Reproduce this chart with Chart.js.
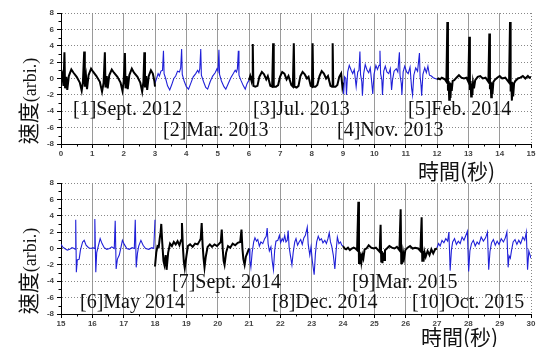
<!DOCTYPE html>
<html>
<head>
<meta charset="utf-8">
<script src="https://cdn.jsdelivr.net/npm/chart.js@4.4.0/dist/chart.umd.min.js"></script>
<style>
body { margin: 0; background: #fff; }
#wrap { position: relative; width: 539px; height: 347px; overflow: hidden; }
canvas { position: absolute; left: 0; }
.ytitle { position: absolute; white-space: nowrap; transform: translate(-50%, -50%) rotate(-90deg); color: #111; }
.ytitle .cjk { font: 21px "Noto Sans CJK TC"; }
.ytitle .lat { font: 18px "Liberation Serif"; }
.xtitle { position: absolute; white-space: nowrap; font: 21px "Noto Sans CJK TC"; color: #111; }
</style>
</head>
<body>
<div id="wrap">
  <canvas id="top-chart" width="539" height="172" style="top:0"></canvas>
  <canvas id="bottom-chart" width="539" height="172" style="top:170px"></canvas>
  <div class="ytitle" style="left:27px;top:101px"><span class="cjk">速度</span><span class="lat">(arbi.)</span></div>
  <div class="ytitle" style="left:27px;top:271px"><span class="cjk">速度</span><span class="lat">(arbi.)</span></div>
  <div class="xtitle" style="left:418px;top:155px">時間(秒)</div>
  <div class="xtitle" style="left:421px;top:321px">時間(秒)</div>
</div>
<script>
// readings, [time (s), speed]
const sept2012 = [[0.00,-0.3],[0.04,0.4],[0.08,-0.9],[0.11,3.2],[0.13,-1.2],[0.17,0.2],[0.20,-1.4],[0.25,0.3],[0.33,1.1],[0.40,0.7],[0.50,0.2],[0.60,-0.5],[0.66,-1.5],[0.70,-0.4],
  [0.74,3.3],[0.76,-1.0],[0.80,0.2],[0.83,-1.3],[0.88,0.4],[0.96,1.2],[1.03,0.8],[1.13,0.3],[1.24,-0.4],[1.31,-1.6],[1.36,-0.5],
  [1.40,3.2],[1.42,-1.1],[1.46,0.3],[1.49,-1.2],[1.54,0.4],[1.62,1.1],[1.69,0.7],[1.80,0.2],[1.90,-0.5],[1.96,-1.5],[2.00,-0.4],
  [2.04,3.1],[2.06,-1.2],[2.10,0.3],[2.13,-1.3],[2.18,0.4],[2.26,1.2],[2.33,0.7],[2.44,0.2],[2.53,-0.5],[2.59,-1.6],[2.63,-0.4],
  [2.66,3.2],[2.68,-1.1],[2.72,0.3],[2.75,-1.4],[2.80,0.3],[2.87,1.0],[2.93,0.6],[2.98,-0.3],[3.00,-1.0]];
const mar2013 = [[3.00,-0.6],[3.05,0.0],[3.10,0.6],[3.14,0.3],[3.19,0.9],[3.24,1.0],[3.27,3.4],[3.29,0.6],[3.34,0.0],[3.40,-0.9],[3.47,-1.4],[3.53,-0.8],[3.60,0.0],[3.66,0.3],[3.72,0.9],[3.78,0.8],[3.82,1.3],
  [3.85,3.6],[3.87,0.5],[3.93,-0.3],[4.00,-1.0],[4.07,-1.3],[4.15,-0.5],[4.22,0.2],[4.30,0.6],[4.36,1.0],[4.40,0.7],[4.43,1.2],
  [4.46,3.6],[4.48,0.4],[4.55,-0.4],[4.62,-1.1],[4.68,-1.3],[4.76,-0.4],[4.84,0.3],[4.92,0.7],[4.98,1.2],[5.01,0.9],
  [5.04,3.5],[5.06,0.5],[5.12,-0.3],[5.20,-1.0],[5.26,-1.3],[5.34,-0.6],[5.42,0.1],[5.50,0.6],[5.56,1.0],[5.60,0.8],[5.63,1.2],
  [5.66,3.4],[5.68,0.4],[5.74,-0.2],[5.82,-0.9],[5.88,-1.3],[5.94,-0.6],[6.00,-0.2]];
const jul2013 = [[6.00,-0.2],[6.04,0.3],[6.08,-0.3],[6.10,0.2],[6.12,4.2],[6.14,-0.9],[6.20,-1.0],[6.27,-0.9],[6.33,0.2],[6.41,0.8],[6.48,0.5],[6.55,-0.1],[6.60,0.3],[6.68,-0.9],[6.74,-1.0],
  [6.77,4.3],[6.79,-1.0],[6.86,-1.0],[6.93,-0.8],[6.99,0.2],[7.06,0.8],[7.13,0.6],[7.20,-0.1],[7.26,0.3],[7.35,-0.8],[7.40,-1.0],
  [7.43,4.3],[7.45,-1.0],[7.52,-1.1],[7.58,-0.9],[7.64,0.3],[7.71,0.8],[7.78,0.5],[7.85,0.0],[7.90,0.2],[7.97,-0.9],[8.01,-1.0],
  [8.03,4.3],[8.05,-1.0],[8.12,-1.0],[8.18,-0.8],[8.25,0.3],[8.32,0.9],[8.39,0.6],[8.46,0.0],[8.52,0.3],[8.60,-0.9],[8.65,-1.0],
  [8.67,4.3],[8.69,-1.0],[8.76,-1.0],[8.82,-0.8],[8.88,0.2],[8.94,0.6],[8.98,-1.0],[9.00,-0.5]];
const nov2013 = [[9.00,-0.5],[9.02,-1.9],[9.05,0.2],[9.09,0.0],[9.11,-2.0],[9.15,0.8],[9.20,1.6],[9.26,1.0],[9.31,0.6],[9.36,1.1],[9.42,-1.0],[9.47,0.8],[9.51,1.0],
  [9.54,3.3],[9.56,0.5],[9.60,-0.4],[9.62,-2.1],[9.66,0.6],[9.71,1.7],[9.77,1.0],[9.82,0.7],[9.87,1.3],[9.92,-0.6],[9.95,-1.9],[9.99,0.5],[10.05,1.6],[10.10,1.1],[10.15,1.6],
  [10.18,3.4],[10.20,0.6],[10.24,-0.2],[10.26,-2.0],[10.30,0.9],[10.35,1.5],[10.40,0.8],[10.46,0.6],[10.51,1.2],[10.55,-1.4],[10.58,-0.2],[10.63,0.9],[10.70,1.2],[10.75,0.8],
  [10.80,3.2],[10.82,0.4],[10.86,-0.6],[10.88,-2.0],[10.92,0.8],[10.97,1.5],[11.03,0.8],[11.08,0.6],[11.14,1.4],[11.19,-1.2],[11.22,-2.0],[11.26,0.4],[11.32,1.3],[11.38,0.9],
  [11.44,3.1],[11.46,0.3],[11.49,-0.8],[11.51,-2.1],[11.55,0.5],[11.61,1.3],[11.66,0.7],[11.71,1.5],[11.76,0.4],[11.82,0.3],[11.88,0.1],[11.94,0.0],[12.00,-0.1]];
const feb2014 = [[12.00,-0.1],[12.05,0.0],[12.10,-0.1],[12.15,0.1],[12.20,0.0],[12.25,-0.1],[12.30,-0.4],
  [12.33,6.9],[12.35,-1.5],[12.37,-0.3],[12.39,-2.6],[12.41,-0.5],[12.43,-2.4],[12.45,-0.6],[12.47,-1.5],[12.50,-0.3],[12.55,-0.2],[12.62,0.1],[12.70,0.4],[12.78,0.1],[12.86,0.0],[12.94,0.1],[13.00,-0.4],
  [13.03,5.1],[13.05,-1.4],[13.07,-0.3],[13.09,-2.2],[13.11,-0.6],[13.13,-2.0],[13.15,-0.5],[13.18,-1.2],[13.22,-0.2],[13.30,0.2],[13.38,0.3],[13.46,0.0],[13.55,0.1],[13.64,-0.4],
  [13.67,5.5],[13.69,-1.3],[13.71,-0.4],[13.73,-2.3],[13.75,-0.5],[13.77,-1.9],[13.80,-0.4],[13.84,-0.2],[13.92,0.1],[14.00,0.3],[14.08,0.0],[14.18,0.1],[14.30,-0.5],
  [14.33,6.9],[14.35,-1.6],[14.37,-0.4],[14.39,-2.7],[14.41,-0.5],[14.43,-2.2],[14.46,-0.6],[14.50,-0.3],[14.58,0.0],[14.66,0.1],[14.74,0.3],[14.82,0.0],[14.90,0.3],[14.95,0.1],[15.00,0.2]];

const may2014 = [[15.00,0.5],[15.05,0.2],[15.12,0.0],[15.20,-0.2],[15.28,-0.1],[15.35,0.1],[15.42,0.0],[15.45,-0.1],
  [15.47,3.5],[15.49,-2.9],[15.52,-1.4],[15.58,-1.3],[15.62,-0.2],[15.69,0.8],[15.74,1.0],[15.80,0.4],[15.88,0.1],[15.96,0.0],[16.02,0.1],[16.06,0.0],
  [16.08,3.6],[16.11,-2.9],[16.14,-0.5],[16.19,0.3],[16.25,1.2],[16.31,0.6],[16.38,0.1],[16.46,-0.1],[16.55,0.0],[16.62,0.2],[16.70,0.0],
  [16.73,3.4],[16.76,-2.5],[16.80,-1.3],[16.86,-0.8],[16.90,-0.1],[16.96,1.0],[17.02,0.5],[17.10,0.0],[17.18,-0.1],[17.27,0.1],[17.34,0.0],
  [17.37,3.5],[17.40,-2.3],[17.44,-0.6],[17.48,0.3],[17.55,1.0],[17.62,0.4],[17.70,0.0],[17.80,-0.1],[17.90,0.1],[17.96,0.0],[18.00,3.5]];
const sept2014 = [[18.00,-2.2],[18.04,-0.5],[18.08,0.3],[18.12,0.2],[18.15,1.2],[18.18,2.0],[18.20,3.0],[18.23,0.8],[18.27,-1.5],[18.30,-2.0],[18.34,-0.8],[18.37,-2.6],[18.42,-0.5],[18.48,0.6],[18.54,0.3],[18.60,0.8],[18.66,0.5],[18.72,0.9],[18.78,0.4],[18.83,1.0],
  [18.86,3.1],[18.89,0.2],[18.92,-1.6],[18.95,-2.4],[19.00,-1.0],[19.05,0.3],[19.12,0.5],[19.20,0.2],[19.28,0.6],[19.36,0.5],[19.42,0.9],[19.46,1.2],
  [19.49,3.1],[19.52,0.4],[19.55,-1.2],[19.58,-2.3],[19.62,-1.0],[19.68,0.2],[19.75,0.5],[19.82,0.2],[19.90,0.5],[19.98,0.3],[20.05,0.6],[20.10,0.8],
  [20.13,2.3],[20.16,0.0],[20.19,-1.5],[20.22,-2.0],[20.27,-0.5],[20.33,0.3],[20.40,0.1],[20.48,0.6],[20.56,0.4],[20.64,0.7],[20.72,0.8],
  [20.76,2.3],[20.79,0.0],[20.82,-1.3],[20.86,-2.0],[20.90,-1.0],[20.96,-0.4],[21.00,0.0]];
const dec2014 = [[21.00,0.0],[21.03,-1.5],[21.06,-2.3],[21.10,-0.5],[21.15,0.8],[21.19,1.3],[21.24,0.9],[21.28,1.1],[21.33,0.3],[21.38,0.8],[21.44,0.6],[21.50,1.2],[21.55,1.5],
  [21.58,2.5],[21.61,0.6],[21.65,-0.3],[21.70,0.2],[21.74,-1.5],[21.78,-2.6],[21.82,-0.2],[21.86,0.9],[21.92,1.0],[21.97,1.6],[22.01,0.7],[22.06,1.2],[22.10,0.9],[22.14,1.6],[22.18,0.8],[22.22,1.0],
  [22.25,2.2],[22.28,0.2],[22.32,-0.8],[22.37,-2.0],[22.41,-0.5],[22.46,0.8],[22.50,1.2],[22.55,0.4],[22.60,0.8],[22.65,1.1],[22.70,0.5],[22.75,1.3],[22.80,1.6],
  [22.86,2.6],[22.89,0.5],[22.94,-0.8],[22.98,0.2],[23.02,-1.5],[23.08,-3.2],[23.12,-0.6],[23.16,0.8],[23.21,1.5],[23.26,1.0],[23.31,1.2],[23.36,0.7],[23.42,1.0],[23.47,0.6],[23.52,1.2],
  [23.56,1.9],[23.60,0.8],[23.64,0.3],[23.69,-0.8],[23.74,-2.5],[23.78,-0.3],[23.82,1.4],[23.87,0.6],[23.92,0.8],[23.96,0.4],[24.00,0.3]];
const mar2015 = [[24.00,0.3],[24.05,0.0],[24.10,-0.1],[24.16,0.1],[24.22,-0.2],[24.28,0.0],[24.34,0.1],[24.40,0.0],[24.45,-0.2],
  [24.49,5.7],[24.51,-1.9],[24.53,-0.4],[24.55,-1.8],[24.57,-0.6],[24.59,-1.6],[24.62,-0.8],[24.65,-1.2],[24.69,-0.1],[24.75,0.0],[24.82,0.4],[24.90,0.1],[24.98,0.0],[25.05,0.1],[25.12,-0.2],[25.17,-0.4],
  [25.20,2.9],[25.22,-1.6],[25.24,-0.3],[25.26,-1.8],[25.28,-0.5],[25.31,-1.4],[25.34,-0.2],[25.40,0.0],[25.48,0.3],[25.56,0.1],[25.64,0.0],[25.72,0.2],[25.80,-0.2],
  [25.84,4.8],[25.86,-1.8],[25.88,-0.4],[25.90,-1.7],[25.92,-0.5],[25.95,-1.2],[25.99,-0.2],[26.06,0.1],[26.14,0.3],[26.22,0.0],[26.30,0.1],[26.40,0.0],[26.47,-0.3],
  [26.51,3.8],[26.53,-1.5],[26.55,-0.3],[26.57,-1.6],[26.60,-0.4],[26.64,-1.0],[26.70,-0.3],[26.76,-0.8],[26.82,-0.1],[26.88,-0.6],[26.94,-0.1],[27.00,0.0]];
const oct2015 = [[27.00,0.1],[27.05,0.6],[27.10,0.3],[27.16,1.0],[27.22,0.7],[27.28,1.2],[27.34,0.9],
  [27.38,2.0],[27.42,-2.7],[27.46,-0.2],[27.50,0.8],[27.56,1.2],[27.62,0.5],[27.68,0.9],[27.74,0.6],[27.80,1.4],[27.86,1.0],[27.91,1.5],
  [27.97,2.1],[28.01,-2.8],[28.05,-0.3],[28.10,0.6],[28.16,1.0],[28.22,0.3],[28.28,0.8],[28.34,0.5],[28.41,1.4],[28.48,0.9],[28.55,1.3],
  [28.61,2.0],[28.65,-2.6],[28.69,-0.4],[28.74,0.7],[28.80,1.1],[28.86,0.4],[28.92,0.9],[28.98,0.5],[29.05,1.2],[29.12,0.8],[29.18,1.3],
  [29.23,2.0],[29.27,-2.3],[29.30,-0.9],[29.34,-1.2],[29.38,-0.2],[29.43,0.8],[29.49,1.1],[29.55,0.5],[29.61,1.0],[29.67,0.6],[29.74,1.4],[29.80,1.0],
  [29.85,2.0],[29.89,-2.6],[29.93,-0.3],[29.97,-0.8],[30.00,-1.2]];

const notesTop = ['[1]Sept. 2012', '[2]Mar. 2013', '[3]Jul. 2013', '[4]Nov. 2013', '[5]Feb. 2014'];
const notesBottom = ['[6]May 2014', '[7]Sept. 2014', '[8]Dec. 2014', '[9]Mar. 2015', '[10]Oct. 2015'];

// where the labels sit on each canvas (left, middle), px
const notePosTop = [[73,110], [163,131], [253,110], [337,131], [408,110]];
const notePosBottom = [[80,133], [172,113], [272,133], [352,113], [412,133]];

const BLACK = '#000000';
const BLUE = '#2020d8';

function seg(points, color) {
    return {
        data: points.map(p => ({x: p[0], y: p[1]})),
        borderColor: color,
        borderWidth: color === BLACK ? 2 : 1.1,
        pointRadius: 0,
        tension: 0
    };
}

function extras(notes, pos) {
    return {
        id: 'extras',
        afterDraw(chart) {
            const {ctx, chartArea: a, scales: {x, y}} = chart;
            ctx.save();
            // minor ticks
            ctx.strokeStyle = '#000';
            ctx.lineWidth = 1;
            ctx.beginPath();
            for (let v = x.min + 0.5; v < x.max; v += 1) {
                const px = Math.round(x.getPixelForValue(v)) + 0.5;
                ctx.moveTo(px, a.bottom);
                ctx.lineTo(px, a.bottom + 2.5);
            }
            for (let v = y.min + 1; v < y.max; v += 2) {
                const py = Math.round(y.getPixelForValue(v)) + 0.5;
                ctx.moveTo(a.left, py);
                ctx.lineTo(a.left - 2.5, py);
            }
            ctx.stroke();
            // dotted right edge
            ctx.strokeStyle = '#888';
            ctx.setLineDash([1, 2]);
            ctx.beginPath();
            ctx.moveTo(Math.round(a.right) + 0.5, a.top);
            ctx.lineTo(Math.round(a.right) + 0.5, a.bottom);
            ctx.stroke();
            ctx.setLineDash([]);
            // period labels
            ctx.font = '20px "Liberation Serif"';
            ctx.fillStyle = '#111';
            ctx.textBaseline = 'middle';
            ctx.textAlign = 'left';
            notes.forEach((t, i) => ctx.fillText(t, pos[i][0], pos[i][1]));
            ctx.restore();
        }
    };
}

function makeChart(el, xmin, xmax, segments, notes, pos) {
    return new Chart(el, {
        type: 'line',
        data: {datasets: segments},
        options: {
            responsive: false,
            animation: false,
            layout: {padding: {top: 13, right: 8, left: 0, bottom: 0}},
            plugins: {legend: {display: false}, tooltip: {enabled: false}},
            scales: {
                x: {
                    type: 'linear',
                    min: xmin,
                    max: xmax,
                    afterFit: s => { s.height = 28; },
                    ticks: {stepSize: 1, autoSkip: false, maxRotation: 0, padding: 1,
                        color: '#444', font: {family: 'Liberation Sans', size: 8, weight: 'bold'}},
                    grid: {
                        color: ctx => ctx.tick && ctx.tick.value === xmax ? 'rgba(0,0,0,0)' : '#9a9a9a',
                        lineWidth: 1, tickLength: 4, tickColor: '#000', tickWidth: 1
                    },
                    border: {color: '#000', width: 1}
                },
                y: {
                    min: -8,
                    max: 8,
                    afterFit: s => { s.width = 61; },
                    ticks: {stepSize: 2, padding: 3,
                        color: '#444', font: {family: 'Liberation Sans', size: 8, weight: 'bold'}},
                    grid: {color: '#888', lineWidth: 1, tickLength: 4, tickColor: '#000', tickWidth: 1},
                    border: {color: '#000', width: 1, dash: [1, 2]}
                }
            }
        },
        plugins: [extras(notes, pos)]
    });
}

makeChart(document.getElementById('top-chart'), 0, 15, [
    seg(sept2012, BLACK), seg(mar2013, BLUE), seg(jul2013, BLACK), seg(nov2013, BLUE), seg(feb2014, BLACK)
], notesTop, notePosTop);

makeChart(document.getElementById('bottom-chart'), 15, 30, [
    seg(may2014, BLUE), seg(sept2014, BLACK), seg(dec2014, BLUE), seg(mar2015, BLACK), seg(oct2015, BLUE)
], notesBottom, notePosBottom);
</script>
</body>
</html>
